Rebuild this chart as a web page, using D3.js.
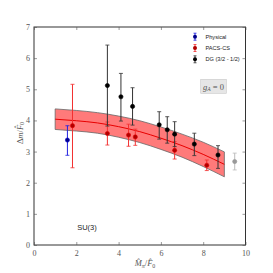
<!DOCTYPE html>
<html>
<head>
<meta charset="utf-8">
<script src="https://cdn.jsdelivr.net/npm/d3@7"></script>
<style>
  body { margin: 0; background: #fff; }
  svg { display: block; }
</style>
</head>
<body>
<div id="chart"></div>
<script>
// data
const physX = [1.58], physY = [3.37], physLo = [2.88], physHi = [3.83];
const pacsX = [1.82, 3.47, 4.47, 4.79, 6.65, 8.17];
const pacsY = [3.83, 3.58, 3.53, 3.47, 3.04, 2.56];
const pacsLo = [2.48, 3.21, 3.17, 3.20, 2.76, 2.39];
const pacsHi = [5.16, 3.95, 3.88, 3.72, 3.32, 2.73];
const dgX = [3.47, 4.11, 4.66, 5.92, 6.30, 6.65, 7.58, 8.70];
const dgY = [5.12, 4.76, 4.45, 3.86, 3.70, 3.56, 3.24, 2.89];
const dgLo = [3.82, 3.98, 3.85, 3.40, 3.27, 3.16, 2.87, 2.46];
const dgHi = [6.42, 5.51, 5.05, 4.28, 4.12, 3.96, 3.59, 3.19];
const greyX = [9.49], greyY = [2.68], greyLo = [2.41], greyHi = [2.95];

// fit band
const bandX = [1, 2, 3, 4, 5, 6, 7, 8, 9];
const bandMid = [4.04, 3.99, 3.92, 3.80, 3.64, 3.43, 3.19, 2.91, 2.59];
const bandHi = [4.37, 4.32, 4.25, 4.14, 3.99, 3.79, 3.56, 3.30, 2.99];
const bandLo = [3.71, 3.66, 3.59, 3.46, 3.29, 3.07, 2.82, 2.52, 2.19];

const xTicks = [0, 2, 4, 6, 8, 10];
const yTicks = [0, 1, 2, 3, 4, 5, 6, 7];
const legendNames = ["Physical", "PACS-CS", "DG (3/2 - 1/2)"];

const W = 273, H = 273;
const x = d3.scaleLinear().domain([0, 10]).range([34, 245.5]);
const y = d3.scaleLinear().domain([0, 7]).range([245, 27]);

const svg = d3.select("#chart").append("svg")
    .attr("width", W).attr("height", H);

// band
const band = bandX.map((v, i) => ({x: v, m: bandMid[i], lo: bandLo[i], hi: bandHi[i]}));
svg.append("path")
    .datum(band)
    .attr("d", d3.area().x(d => x(d.x)).y0(d => y(d.lo)).y1(d => y(d.hi)).curve(d3.curveMonotoneX))
    .attr("fill", "#ff7a7a")
    .attr("stroke", "none");
svg.append("path")
    .datum(band)
    .attr("d", d3.line().x(d => x(d.x)).y(d => y(d.hi)).curve(d3.curveMonotoneX))
    .attr("fill", "none").attr("stroke", "#666").attr("stroke-width", 0.8);
svg.append("path")
    .datum(band)
    .attr("d", d3.line().x(d => x(d.x)).y(d => y(d.lo)).curve(d3.curveMonotoneX))
    .attr("fill", "none").attr("stroke", "#666").attr("stroke-width", 0.8);
// close the ends of the band
svg.selectAll(".bandend")
    .data([band[0], band[band.length - 1]])
  .enter().append("line")
    .attr("x1", d => x(d.x)).attr("x2", d => x(d.x))
    .attr("y1", d => y(d.lo)).attr("y2", d => y(d.hi))
    .attr("stroke", "#666").attr("stroke-width", 0.8);
svg.append("path")
    .datum(band)
    .attr("d", d3.line().x(d => x(d.x)).y(d => y(d.m)).curve(d3.curveMonotoneX))
    .attr("fill", "none").attr("stroke", "#e80000").attr("stroke-width", 1);

// error bar series
function series(xs, ys, lo, hi, barColor, dotFill, dotStroke) {
  const data = xs.map((v, i) => ({x: v, y: ys[i], lo: lo[i], hi: hi[i]}));
  const g = svg.append("g");
  g.selectAll(".bar").data(data).enter().append("line")
      .attr("x1", d => x(d.x)).attr("x2", d => x(d.x))
      .attr("y1", d => y(d.lo)).attr("y2", d => y(d.hi))
      .attr("stroke", barColor).attr("stroke-width", 1);
  g.selectAll(".capT").data(data).enter().append("line")
      .attr("x1", d => x(d.x) - 2).attr("x2", d => x(d.x) + 2)
      .attr("y1", d => y(d.hi)).attr("y2", d => y(d.hi))
      .attr("stroke", barColor).attr("stroke-width", 0.8);
  g.selectAll(".capB").data(data).enter().append("line")
      .attr("x1", d => x(d.x) - 2).attr("x2", d => x(d.x) + 2)
      .attr("y1", d => y(d.lo)).attr("y2", d => y(d.lo))
      .attr("stroke", barColor).attr("stroke-width", 0.8);
  g.selectAll(".dot").data(data).enter().append("circle")
      .attr("cx", d => x(d.x)).attr("cy", d => y(d.y))
      .attr("r", 2.1)
      .attr("fill", dotFill).attr("stroke", dotStroke).attr("stroke-width", 0.6);
}

series(pacsX, pacsY, pacsLo, pacsHi, "#f23030", "#b00000", "#e00000");
series(dgX, dgY, dgLo, dgHi, "#333", "#000", "#000");
series(physX, physY, physLo, physHi, "#2020e0", "#00008a", "#0000d0");
series(greyX, greyY, greyLo, greyHi, "#bbb", "#999", "#999");

// frame and ticks (inward, all four sides)
svg.append("rect")
    .attr("x", x(0)).attr("y", y(7))
    .attr("width", x(10) - x(0)).attr("height", y(0) - y(7))
    .attr("fill", "none").attr("stroke", "#333").attr("stroke-width", 1);

svg.append("g").attr("transform", `translate(0,${y(0)})`)
    .call(d3.axisBottom(x).tickValues(xTicks).tickSize(-3).tickPadding(5).tickFormat(d3.format("d")))
    .call(g => g.select(".domain").remove());
svg.append("g").attr("transform", `translate(0,${y(7)})`)
    .call(d3.axisTop(x).tickValues(xTicks).tickSize(-3).tickFormat(""))
    .call(g => g.select(".domain").remove());
svg.append("g").attr("transform", `translate(${x(0)},0)`)
    .call(d3.axisLeft(y).tickValues(yTicks).tickSize(-3).tickPadding(4).tickFormat(d3.format("d")))
    .call(g => g.select(".domain").remove());
svg.append("g").attr("transform", `translate(${x(10)},0)`)
    .call(d3.axisRight(y).tickValues(yTicks).tickSize(-3).tickFormat(""))
    .call(g => g.select(".domain").remove());

svg.selectAll(".tick line").attr("stroke", "#555").attr("stroke-width", 0.6);
svg.selectAll(".tick text")
    .attr("font-family", "'Liberation Serif', 'DejaVu Serif', serif")
    .attr("font-size", 8).attr("fill", "#555");

// axis labels
const xl = svg.append("text")
    .attr("x", 145).attr("y", 266)
    .attr("text-anchor", "middle")
    .attr("font-family", "'Liberation Serif', serif")
    .attr("font-size", 8.5).attr("fill", "#555");
xl.append("tspan").attr("font-style", "italic").text("M\u0302");
xl.append("tspan").attr("font-style", "italic").attr("font-size", 6).attr("dy", 1.5).text("\u03c0");
xl.append("tspan").attr("dy", -1.5).text("/");
xl.append("tspan").attr("font-style", "italic").text("F\u0302");
xl.append("tspan").attr("font-size", 6).attr("dy", 1.5).text("0");

const yl = svg.append("text")
    .attr("transform", "translate(22.5,133) rotate(-90)")
    .attr("text-anchor", "middle")
    .attr("font-family", "'Liberation Serif', serif")
    .attr("font-size", 8.5).attr("fill", "#555");
yl.append("tspan").text("\u0394");
yl.append("tspan").attr("font-style", "italic").text("m");
yl.append("tspan").text("/");
yl.append("tspan").attr("font-style", "italic").text("F\u0302");
yl.append("tspan").attr("font-size", 6).attr("dy", 1.5).text("0");

// legend
const legColors = [["#2020e0", "#00008a"], ["#f23030", "#b00000"], ["#333", "#000"]];
const leg = svg.append("g");
legendNames.forEach((name, i) => {
  const ly = 36.7 + i * 11.3;
  leg.append("line")
      .attr("x1", 195).attr("x2", 195).attr("y1", ly - 3.5).attr("y2", ly + 3.5)
      .attr("stroke", legColors[i][0]).attr("stroke-width", 1);
  leg.append("line").attr("x1", 193.5).attr("x2", 196.5).attr("y1", ly - 3.5).attr("y2", ly - 3.5)
      .attr("stroke", legColors[i][0]).attr("stroke-width", 0.8);
  leg.append("line").attr("x1", 193.5).attr("x2", 196.5).attr("y1", ly + 3.5).attr("y2", ly + 3.5)
      .attr("stroke", legColors[i][0]).attr("stroke-width", 0.8);
  leg.append("circle").attr("cx", 195).attr("cy", ly).attr("r", 2)
      .attr("fill", legColors[i][1]);
  leg.append("text")
      .attr("x", 205.5).attr("y", ly + 2)
      .attr("font-family", "'Liberation Sans', sans-serif")
      .attr("font-size", 5.6).attr("fill", "#222")
      .text(name);
});

// g_A = 0 box
svg.append("rect")
    .attr("x", 200.7).attr("y", 79.3).attr("width", 25.6).attr("height", 14)
    .attr("fill", "#e6e6e6").attr("stroke", "#c8c8c8").attr("stroke-width", 0.6);
const ga = svg.append("text")
    .attr("x", 213.5).attr("y", 89.5)
    .attr("text-anchor", "middle")
    .attr("font-family", "'Liberation Serif', serif")
    .attr("font-size", 8.5).attr("fill", "#555");
ga.append("tspan").attr("font-style", "italic").text("g");
ga.append("tspan").attr("font-style", "italic").attr("font-size", 5.5).attr("dy", 1.5).text("A");
ga.append("tspan").attr("dy", -1.5).text(" = 0");

// SU(3)
svg.append("text")
    .attr("x", 87).attr("y", 230)
    .attr("text-anchor", "middle")
    .attr("font-family", "'Liberation Sans', sans-serif")
    .attr("font-size", 7.5).attr("fill", "#222")
    .text("SU(3)");
</script>
</body>
</html>
